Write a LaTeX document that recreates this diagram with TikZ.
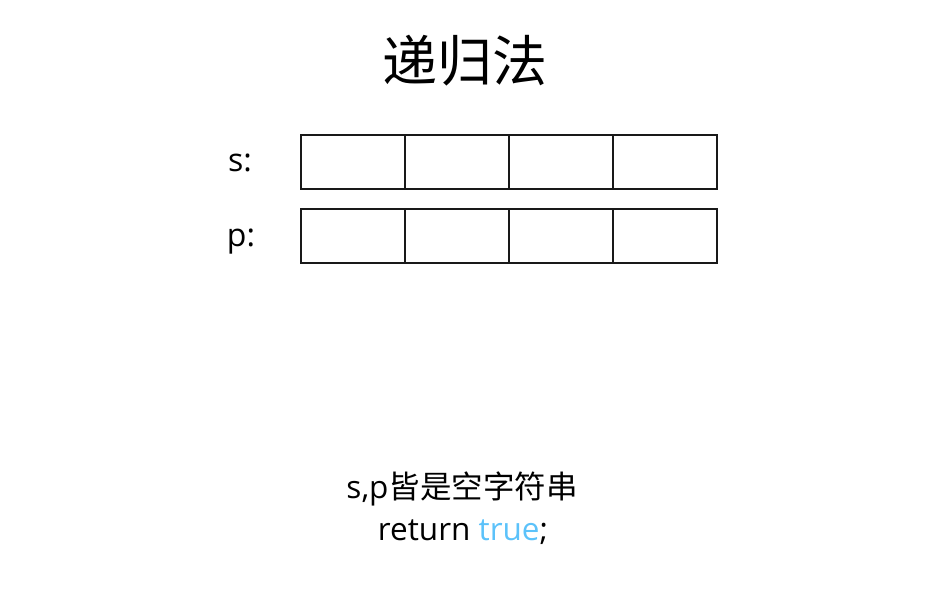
\documentclass[tikz,border=0pt]{standalone}
\usepackage{fontspec}
\setmainfont{Open Sans}
\newfontfamily\cjk{Noto Sans CJK SC}
\definecolor{kwblue}{RGB}{92,194,250}
\begin{document}
\begin{tikzpicture}[x=1pt,y=-1pt,
  cell/.style={draw=black!90,line width=1.4pt,minimum width=104pt,minimum height=54pt,inner sep=0pt,outer sep=0pt,anchor=north west},
  lbl/.style={font=\fontsize{32}{36}\selectfont,inner sep=0pt,anchor=base},
  body/.style={font=\fontsize{31.5}{36}\selectfont,inner sep=0pt,anchor=base}]
\useasboundingbox (0,0) rectangle (943,589);
\node[font=\cjk\fontsize{55}{60}\selectfont,inner sep=0pt] (title) at (465,61) {递归法};
\node[lbl] (slbl) at (240,171) {s:};
\node[lbl] (plbl) at (241,246) {p:};
\foreach \i in {0,1,2,3}{
  \node[cell] (s\i) at (301+104*\i,135) {};
  \node[cell] (p\i) at (301+104*\i,209) {};
}
\node[body] (line1) at (462,498) {s,p{\cjk 皆是空字符串}};
\node[body] (line2) at (463,540) {return \textcolor{kwblue}{true};};
\end{tikzpicture}
\end{document}
